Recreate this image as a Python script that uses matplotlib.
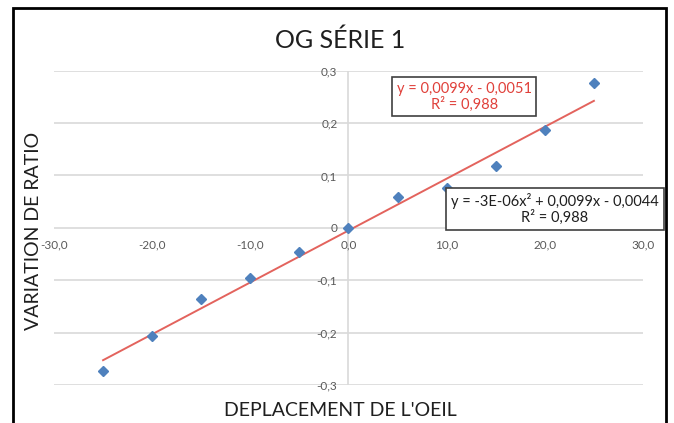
import matplotlib.pyplot as plt
from matplotlib.patches import Rectangle

plt.rcParams['font.family'] = ['Lato', 'DejaVu Sans']

# data
deplacement = [-25, -20, -15, -10, -5, 0, 5, 10, 15, 20, 25]
variation = [-0.274, -0.206, -0.135, -0.096, -0.046, 0.0, 0.058, 0.077, 0.119, 0.187, 0.277]

# linear trendline as printed on the chart
slope = 0.0099
intercept = -0.0051
trend_x = [-25, 25]

x_ticks = [-30, -20, -10, 0, 10, 20, 30]
x_labels = ['-30,0', '-20,0', '-10,0', '0,0', '10,0', '20,0', '30,0']
y_ticks = [-0.3, -0.2, -0.1, 0, 0.1, 0.2, 0.3]
y_labels = ['-0,3', '-0,2', '-0,1', '0', '0,1', '0,2', '0,3']

fig = plt.figure(figsize=(6.74, 4.23), dpi=100)
ax = fig.add_axes([0.0801, 0.0898, 0.8739, 0.7431])

grid_col = '#d9d9d9'
for yv in y_ticks:
    ax.axhline(yv, color=grid_col, lw=1.2, zorder=0)
ax.axvline(0, color=grid_col, lw=1.2, zorder=0)

trend_y = [slope * x + intercept for x in trend_x]
ax.plot(trend_x, trend_y, color='#e3635d', lw=1.4, zorder=2)
ax.plot(deplacement, variation, linestyle='none', marker='D', markersize=5.5,
        color='#4f81bd', zorder=3)

ax.set_xlim(-30, 30)
ax.set_ylim(-0.3, 0.3)
for s in ax.spines.values():
    s.set_visible(False)
ax.spines['bottom'].set_position(('data', 0))
ax.spines['left'].set_position(('data', 0))
ax.set_xticks(x_ticks, x_labels)
ax.set_yticks(y_ticks, y_labels)
ax.tick_params(axis='both', length=0, labelsize=8.5, labelcolor='#595959')
ax.tick_params(axis='x', pad=8)
ax.tick_params(axis='y', pad=8)

# title and axis labels
fig.text(0.505, 0.905, 'OG SÉRIE 1', ha='center', va='center', fontsize=18, color='#1f1f1f')
fig.text(0.505, 0.03, "DEPLACEMENT DE L'OEIL", ha='center', va='center', fontsize=14, color='#1f1f1f')
fig.text(0.05, 0.455, 'VARIATION DE RATIO', ha='center', va='center', rotation=90,
         fontsize=14, color='#1f1f1f')

# trendline labels
ax.text(11.8, 0.25, 'y = 0,0099x - 0,0051\nR² = 0,988', ha='center', va='center',
        fontsize=10.5, color='#e0403a', linespacing=1.1,
        bbox=dict(boxstyle='square,pad=0.3', fc='white', ec='#404040', lw=1.2), zorder=5)
ax.text(21.0, 0.036, 'y = -3E-06x² + 0,0099x - 0,0044\nR² = 0,988', ha='center', va='center',
        fontsize=10.5, color='#1f1f1f', linespacing=1.1,
        bbox=dict(boxstyle='square,pad=0.35', fc='white', ec='#404040', lw=1.2), zorder=5,
        clip_on=False)

# outer black frame of the screenshot
fig.patches.append(Rectangle((13 / 674, -0.1), (666 - 13) / 674, 1.1 - 8 / 423,
                             transform=fig.transFigure, fill=False, ec='black', lw=2, zorder=10))

fig.savefig('out.png', dpi=100)
